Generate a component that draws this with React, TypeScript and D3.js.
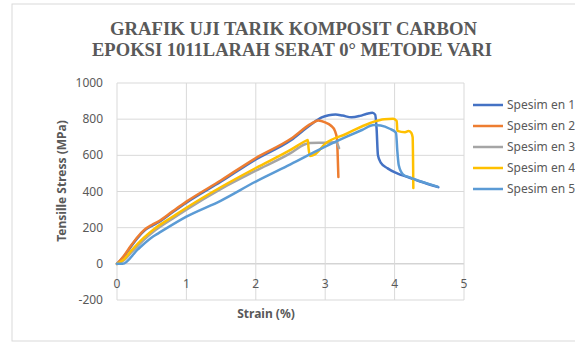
import { useEffect, useRef } from "react";
import * as d3 from "d3";

// strain (%) / stress (MPa)
const spesimen1X = [0, 0.1, 0.2, 0.3, 0.4, 0.5, 0.6, 0.8, 1.0, 1.5, 2.0, 2.5, 2.8, 2.95, 3.05, 3.15, 3.25, 3.38, 3.5, 3.6, 3.68, 3.72, 3.74, 3.76, 3.8, 3.9, 4.03, 4.2, 4.37, 4.63];
const spesimen1Y = [0, 40, 95, 145, 185, 210, 230, 285, 338, 455, 578, 682, 772, 810, 822, 826, 820, 810, 818, 830, 836, 825, 750, 600, 560, 528, 502, 478, 455, 424];

const spesimen2X = [0, 0.1, 0.2, 0.3, 0.4, 0.5, 0.6, 0.8, 1.0, 1.5, 2.0, 2.5, 2.8, 2.9, 3.0, 3.08, 3.14, 3.17, 3.18, 3.19];
const spesimen2Y = [0, 45, 100, 150, 190, 215, 235, 290, 344, 462, 585, 690, 775, 792, 782, 765, 735, 690, 600, 480];

const spesimen3X = [0, 0.1, 0.2, 0.38, 0.55, 0.8, 1.0, 1.5, 2.0, 2.5, 2.7, 2.78, 3.0, 3.15, 3.18, 3.2];
const spesimen3Y = [0, 20, 60, 130, 185, 250, 300, 415, 515, 612, 660, 668, 670, 672, 660, 640];

const spesimen4X = [0, 0.1, 0.2, 0.38, 0.55, 0.8, 1.0, 1.5, 2.0, 2.5, 2.72, 2.75, 2.76, 2.78, 2.85, 3.0, 3.3, 3.65, 3.85, 3.98, 4.03, 4.04, 4.15, 4.2, 4.24, 4.26, 4.27];
const spesimen4Y = [0, 25, 70, 142, 197, 260, 310, 425, 530, 630, 680, 685, 640, 597, 605, 665, 718, 779, 800, 802, 790, 735, 728, 735, 725, 700, 420];

const spesimen5X = [0, 0.08, 0.3, 0.52, 0.6, 1.0, 1.5, 2.0, 2.5, 3.0, 3.31, 3.53, 3.7, 3.8, 3.93, 4.02, 4.04, 4.06, 4.12, 4.22, 4.62];
const spesimen5Y = [0, 0, 80, 151, 170, 261, 350, 455, 550, 648, 703, 740, 768, 765, 747, 725, 620, 545, 495, 478, 427];

const seriesNames = ["Spesim en 1", "Spesim en 2", "Spesim en 3", "Spesim en 4", "Spesim en 5"];
const seriesColors = ["#4472C4", "#ED7D31", "#A5A5A5", "#FFC000", "#5B9BD5"];
const xTicks = [0, 1, 2, 3, 4, 5];
const yTicks = [-200, 0, 200, 400, 600, 800, 1000];

const titleLines = ["GRAFIK UJI TARIK KOMPOSIT CARBON", "EPOKSI 1011LARAH SERAT 0° METODE VARI"];

export default function App() {
  const ref = useRef<SVGSVGElement | null>(null);

  useEffect(() => {
    const svg = d3.select(ref.current);
    svg.selectAll("*").remove();

    const W = 575;
    const H = 342;
    const left = 117, right = 464, top = 83, bottom = 300;
    const gray = "#595959";

    svg.attr("width", W).attr("height", H);

    svg.append("rect")
      .attr("x", 12).attr("y", 4)
      .attr("width", W).attr("height", 337)
      .attr("fill", "#fff")
      .attr("stroke", "#d9d9d9");

    // title, two lines
    const titleX = [[110, 367], [92, 400]];
    titleLines.forEach((t, i) => {
      svg.append("text")
        .attr("x", titleX[i][0])
        .attr("y", 35 + i * 21)
        .attr("textLength", titleX[i][1])
        .attr("lengthAdjust", "spacingAndGlyphs")
        .attr("font-family", "'Liberation Serif', 'DejaVu Serif', serif")
        .attr("font-weight", "bold")
        .attr("font-size", 19)
        .attr("fill", gray)
        .text(t);
    });

    const x = d3.scaleLinear().domain([0, 5]).range([left, right]);
    const y = d3.scaleLinear().domain([-200, 1000]).range([bottom, top]);

    const g = svg.append("g");

    // gridlines
    g.selectAll(".hgrid")
      .data(yTicks)
      .enter()
      .append("line")
      .attr("x1", left).attr("x2", right)
      .attr("y1", (d) => y(d)).attr("y2", (d) => y(d))
      .attr("stroke", (d) => (d === 0 ? "#bfbfbf" : "#d9d9d9"))
      .attr("stroke-width", 1);

    g.selectAll(".vgrid")
      .data(xTicks)
      .enter()
      .append("line")
      .attr("x1", (d) => x(d)).attr("x2", (d) => x(d))
      .attr("y1", top).attr("y2", bottom)
      .attr("stroke", "#d9d9d9")
      .attr("stroke-width", 1);

    // tick labels
    g.selectAll(".ylab")
      .data(yTicks)
      .enter()
      .append("text")
      .attr("x", 103)
      .attr("y", (d) => y(d) + 4)
      .attr("text-anchor", "end")
      .attr("font-family", "'Noto Sans', sans-serif")
      .attr("font-size", 12)
      .attr("fill", gray)
      .text((d) => d);

    g.selectAll(".xlab")
      .data(xTicks)
      .enter()
      .append("text")
      .attr("x", (d) => x(d))
      .attr("y", y(0) + 24)
      .attr("text-anchor", "middle")
      .attr("font-family", "'Noto Sans', sans-serif")
      .attr("font-size", 12)
      .attr("fill", gray)
      .text((d) => d);

    // axis titles
    svg.append("text")
      .attr("transform", `translate(66,181) rotate(-90)`)
      .attr("text-anchor", "middle")
      .attr("font-family", "'Noto Sans', sans-serif")
      .attr("font-weight", "bold")
      .attr("font-size", 12)
      .attr("fill", gray)
      .text("Tensille Stress (MPa)");

    svg.append("text")
      .attr("x", 266)
      .attr("y", 318)
      .attr("text-anchor", "middle")
      .attr("font-family", "'Noto Sans', sans-serif")
      .attr("font-weight", "bold")
      .attr("font-size", 12)
      .attr("fill", gray)
      .text("Strain (%)");

    // series
    const xs = [spesimen1X, spesimen2X, spesimen3X, spesimen4X, spesimen5X];
    const ys = [spesimen1Y, spesimen2Y, spesimen3Y, spesimen4Y, spesimen5Y];

    const line = d3.line<[number, number]>()
      .x((d) => x(d[0]))
      .y((d) => y(d[1]))
      .curve(d3.curveMonotoneX);

    xs.forEach((sx, i) => {
      const pts = sx.map((v, j) => [v, ys[i][j]] as [number, number]);
      g.append("path")
        .attr("d", line(pts))
        .attr("fill", "none")
        .attr("stroke", seriesColors[i])
        .attr("stroke-width", 2.5)
        .attr("stroke-linejoin", "round")
        .attr("stroke-linecap", "round");
    });

    // legend
    const lg = svg.append("g");
    seriesNames.forEach((name, i) => {
      const ly = 105 + i * 21;
      lg.append("line")
        .attr("x1", 473).attr("x2", 503)
        .attr("y1", ly).attr("y2", ly)
        .attr("stroke", seriesColors[i])
        .attr("stroke-width", 2.5);
      lg.append("text")
        .attr("x", 507)
        .attr("y", ly + 4)
        .attr("font-family", "'Noto Sans', sans-serif")
        .attr("font-size", 12)
        .attr("fill", gray)
        .text(name);
    });
  }, []);

  return <svg ref={ref} style={{ position: "absolute", left: 0, top: 0 }} />;
}
